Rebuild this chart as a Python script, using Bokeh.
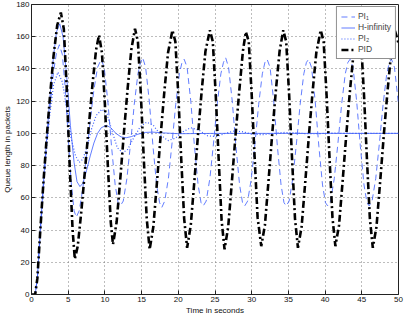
from bokeh.plotting import figure
from bokeh.embed import file_html
from bokeh.resources import INLINE
from bokeh.models import Legend, LegendItem, FixedTicker

# ---------------- data ----------------
pi1_t = [0, 0.5, 0.8, 1.2, 1.6, 2.0, 2.5, 3.0, 3.4, 3.8, 4.2, 4.6, 5.0, 5.4, 5.8, 6.1, 6.5, 7.0, 7.5, 8.0, 8.5, 9.0, 9.5,
         9.9, 10.4, 10.9, 11.4, 11.8, 12.1, 12.5, 13.0, 13.5, 14.0, 14.5, 14.85, 15.15,
         15.55, 16.05, 16.55, 17.05, 17.45, 17.75, 18.15, 18.65, 19.15, 19.65, 20.15, 20.5, 20.8,
         21.2, 21.7, 22.2, 22.7, 23.1, 23.4, 23.8, 24.3, 24.8, 25.3, 25.8, 26.15, 26.45,
         26.85, 27.35, 27.85, 28.35, 28.75, 29.05, 29.45, 29.95, 30.45, 30.95, 31.45, 31.8, 32.1,
         32.5, 33.0, 33.5, 34.0, 34.4, 34.7, 35.1, 35.6, 36.1, 36.6, 37.1, 37.45, 37.75,
         38.15, 38.65, 39.15, 39.65, 40.05, 40.35, 40.75, 41.25, 41.75, 42.25, 42.75, 43.1, 43.4,
         43.8, 44.3, 44.8, 45.3, 45.7, 46.0, 46.4, 46.9, 47.4, 47.9, 48.4, 48.75, 49.05,
         49.45, 50.0]
pi1_q = [0, 0, 10, 40, 66, 90, 116, 138, 150, 155, 149, 128, 98, 70, 52, 48, 52, 66, 86, 108, 127, 141, 146,
         141, 120, 92, 68, 57, 55, 58, 72, 94, 118, 137, 144, 147,
         141, 120, 92, 68, 57, 54, 58, 72, 94, 118, 137, 144, 146,
         141, 120, 92, 68, 57, 55, 58, 72, 94, 118, 137, 144, 147,
         141, 120, 92, 68, 57, 55, 58, 72, 94, 118, 137, 144, 146,
         141, 120, 92, 68, 57, 55, 58, 72, 94, 118, 137, 144, 146,
         141, 120, 92, 68, 57, 55, 58, 72, 94, 118, 137, 144, 146,
         141, 120, 92, 68, 57, 55, 58, 72, 94, 118, 137, 144, 146,
         141, 118]

hinf_t = [0, 0.5, 0.8, 1.2, 1.6, 2.0, 2.5, 3.0, 3.4, 3.85, 4.3, 4.8, 5.3, 5.8, 6.2, 6.6, 7.0, 7.5, 8.0, 8.5, 9.0, 9.5,
          10.2, 10.8, 11.5, 12.2, 12.9, 13.6, 14.5, 15.5, 16.5, 18, 20, 25, 30, 35, 40, 45, 50]
hinf_q = [0, 0, 10, 40, 68, 93, 122, 148, 163, 168, 160, 135, 105, 82, 70, 67, 69, 77, 86, 94, 100, 103.5,
          105, 103.5, 100, 97.8, 97.3, 98, 99.5, 100.6, 100.8, 100.3, 99.8, 100, 100, 100, 100, 100, 100]

pi2_t = [0, 0.5, 0.8, 1.2, 1.6, 2.0, 2.5, 3.0, 3.6, 4.2, 4.8, 5.4, 6.0, 6.5, 7.0, 7.6, 8.2, 8.8, 9.6, 10.3, 11.0, 11.7,
         12.4, 13.1, 13.9, 14.8, 15.7, 16.6, 17.6, 18.6, 19.6, 20.6, 21.7, 22.8, 24.0, 25.2, 26.4, 27.6, 28.8,
         30, 31.5, 33, 34.5, 36, 37.5, 39, 41, 43, 46, 50]
pi2_q = [0, 0, 10, 38, 64, 88, 112, 130, 138, 132, 115, 97, 86, 82, 84, 92, 103, 111, 115, 112, 101, 91,
         88, 90, 97, 104, 107, 105, 99, 95.5, 97, 101, 103.5, 102, 98.5, 98, 100, 101.5, 101,
         99.5, 99.2, 100, 100.6, 100.3, 99.8, 99.8, 100.2, 100, 100, 100]

pid_t = [0, 0.5, 0.8, 1.2, 1.6, 2.0, 2.5, 3.0, 3.5, 4.0, 4.4, 4.8, 5.2, 5.6, 5.9, 6.3, 6.8, 7.3, 7.8, 8.3, 8.8, 9.2,
         9.6, 10.0, 10.4, 10.8, 11.1, 11.6, 12.1, 12.6, 13.1, 13.6, 14.1, 14.5, 14.9, 15.3, 15.7, 16.1,
         16.6, 17.1, 17.6, 18.1, 18.6, 19.2, 19.6, 20.0, 20.4, 20.8, 21.2,
         21.7, 22.2, 22.7, 23.2, 23.7, 24.3, 24.7, 25.1, 25.5, 25.9, 26.3,
         26.8, 27.3, 27.8, 28.3, 28.8, 29.2, 29.6, 30.0, 30.4, 30.8, 31.3,
         31.8, 32.3, 32.8, 33.3, 33.8, 34.3, 34.7, 35.1, 35.5, 35.9, 36.3,
         36.8, 37.3, 37.8, 38.3, 38.8, 39.4, 39.8, 40.2, 40.6, 41.0, 41.4,
         41.9, 42.4, 42.9, 43.4, 43.9, 44.5, 44.9, 45.3, 45.7, 46.1, 46.5,
         47.0, 47.5, 48.0, 48.5, 49.0, 49.5, 50.0]
pid_q = [0, 0, 10, 40, 68, 93, 122, 148, 167, 175, 165, 128, 80, 40, 22, 30, 52, 78, 104, 130, 152, 161,
         150, 118, 80, 45, 31, 45, 72, 101, 128, 152, 165, 157, 124, 84, 47, 28,
         42, 70, 99, 126, 150, 164, 157, 124, 84, 47, 29,
         43, 71, 100, 127, 151, 164, 157, 124, 84, 46, 28,
         42, 70, 99, 126, 151, 163, 157, 124, 85, 48, 30,
         43, 71, 100, 127, 151, 164, 157, 124, 84, 47, 29,
         42, 70, 99, 126, 150, 164, 157, 124, 85, 48, 30,
         43, 71, 100, 127, 151, 164, 157, 124, 84, 47, 29,
         42, 70, 99, 126, 150, 164, 156]

x_ticks = [0, 5, 10, 15, 20, 25, 30, 35, 40, 45, 50]
y_ticks = [0, 20, 40, 60, 80, 100, 120, 140, 160, 180]
series_names = ["PI\u2081", "H-infinity", "PI\u2082", "PID"]

# ---------------- figure ----------------
FONT = "Liberation Sans"
p = figure(width=407, height=317, x_range=(0, 50), y_range=(0, 180),
           output_backend="svg", toolbar_location=None,
           min_border_left=0, min_border_right=9, min_border_top=4, min_border_bottom=0)
p.background_fill_color = "white"
p.border_fill_color = "white"
p.outline_line_color = "#222222"
p.outline_line_width = 1

BLUE = "#3a5cff"
r1 = p.line(pi1_t, pi1_q, line_color=BLUE, line_width=0.8, line_dash="6 4")
r2 = p.line(hinf_t, hinf_q, line_color=BLUE, line_width=0.8)
r3 = p.line(pi2_t, pi2_q, line_color=BLUE, line_width=1.2, line_dash="1 2")
r4 = p.line(pid_t, pid_q, line_color="black", line_width=2.6, line_dash="7 3 2 3")

for ax in (p.xaxis[0], p.yaxis[0]):
    ax.major_label_text_font = FONT
    ax.major_label_text_font_size = "8px"
    ax.major_label_text_color = "#111111"
    ax.axis_label_text_font = FONT
    ax.axis_label_text_font_size = "8px"
    ax.axis_label_text_font_style = "normal"
    ax.axis_label_text_color = "#111111"
    ax.major_tick_in = 4
    ax.major_tick_out = 0
    ax.minor_tick_in = 0
    ax.minor_tick_out = 0
    ax.axis_line_color = "#222222"
    ax.major_tick_line_color = "#222222"
    ax.major_label_standoff = 2
    ax.axis_label_standoff = 1

p.xaxis[0].ticker = FixedTicker(ticks=x_ticks)
p.yaxis[0].ticker = FixedTicker(ticks=y_ticks)
p.xaxis[0].axis_label = "Time in seconds"
p.yaxis[0].axis_label = "Queue length in packets"

p.xgrid.ticker = FixedTicker(ticks=x_ticks)
p.ygrid.ticker = FixedTicker(ticks=y_ticks)
for g in (p.xgrid[0], p.ygrid[0]):
    g.grid_line_color = "#7a7a7a"
    g.grid_line_dash = "1 3"
    g.grid_line_width = 1

legend = Legend(items=[LegendItem(label=series_names[0], renderers=[r1]),
                       LegendItem(label=series_names[1], renderers=[r2]),
                       LegendItem(label=series_names[2], renderers=[r3]),
                       LegendItem(label=series_names[3], renderers=[r4])],
                location="top_right")
legend.label_text_font = FONT
legend.label_text_font_size = "8.5px"
legend.label_height = 9
legend.glyph_height = 9
legend.glyph_width = 14
legend.label_standoff = 3
legend.spacing = 1
legend.padding = 4
legend.margin = 2
legend.border_line_color = "#222222"
legend.border_line_width = 1
legend.background_fill_alpha = 1
p.add_layout(legend)

open("out.html", "w").write(file_html(p, INLINE))
